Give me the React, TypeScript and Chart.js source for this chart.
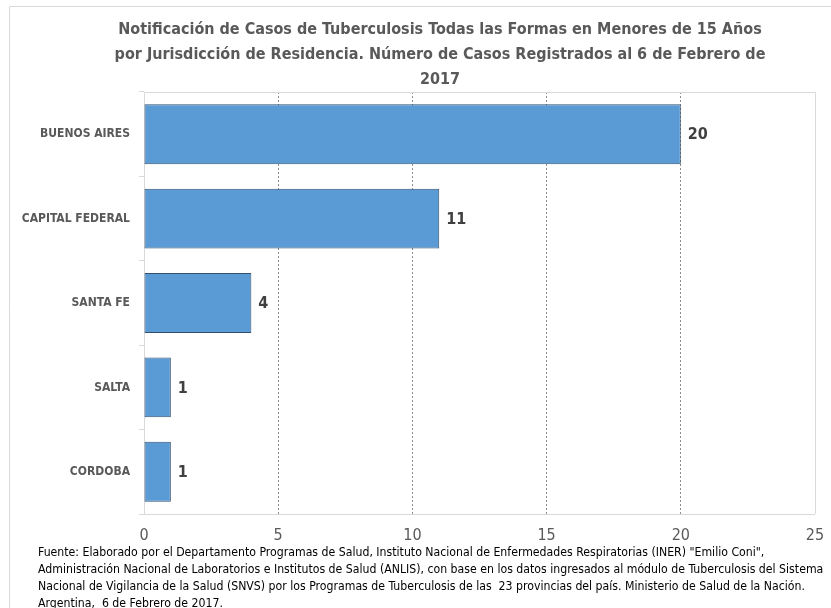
import React, { useEffect, useRef } from "react";
import { Chart, registerables } from "chart.js";

Chart.register(...registerables);

const categories = ["BUENOS AIRES", "CAPITAL FEDERAL", "SANTA FE", "SALTA", "CORDOBA"];
const casos = [20, 11, 4, 1, 1];
const xMin = 0;
const xMax = 25;
const xStep = 5;

const titleLines = [
  "Notificación de Casos de Tuberculosis Todas las Formas en Menores de 15 Años",
  "por Jurisdicción de Residencia. Número de Casos Registrados al 6 de Febrero de",
  "2017",
];

const footerLines = [
  'Fuente: Elaborado por el Departamento Programas de Salud, Instituto Nacional de Enfermedades Respiratorias (INER) "Emilio Coni",',
  "Administración Nacional de Laboratorios e Institutos de Salud (ANLIS), con base en los datos ingresados al módulo de Tuberculosis del Sistema",
  "Nacional de Vigilancia de la Salud (SNVS) por los Programas de Tuberculosis de las  23 provincias del país. Ministerio de Salud de la Nación.",
  "Argentina,  6 de Febrero de 2017.",
];

const FONT = "'DejaVu Sans Condensed', 'DejaVu Sans', sans-serif";

const W = 831;
const H = 608;
const CW = 881;

const decorPlugin = {
  id: "decor",
  beforeDatasetsDraw(chart: any) {
    const { ctx, chartArea } = chart;
    ctx.save();
    ctx.strokeStyle = "#d9d9d9";
    ctx.lineWidth = 1;
    ctx.beginPath();
    ctx.moveTo(chartArea.left, Math.round(chartArea.top) + 0.5);
    ctx.lineTo(chartArea.right, Math.round(chartArea.top) + 0.5);
    ctx.moveTo(Math.round(chartArea.right) + 0.5, chartArea.top);
    ctx.lineTo(Math.round(chartArea.right) + 0.5, chartArea.bottom);
    ctx.moveTo(chartArea.left, Math.round(chartArea.bottom) + 0.5);
    ctx.lineTo(chartArea.right, Math.round(chartArea.bottom) + 0.5);
    ctx.stroke();
    ctx.restore();
  },
  afterDatasetsDraw(chart: any) {
    const { ctx } = chart;
    const meta = chart.getDatasetMeta(0);
    ctx.save();
    ctx.font = `bold 16px ${FONT}`;
    ctx.fillStyle = "#404040";
    ctx.textAlign = "left";
    ctx.textBaseline = "middle";
    meta.data.forEach((bar: any, i: number) => {
      ctx.fillText(String(casos[i]), bar.x + 7, bar.y + 1);
    });
    ctx.restore();
  },
  afterDraw(chart: any) {
    const { ctx } = chart;
    ctx.save();
    ctx.strokeStyle = "#d9d9d9";
    ctx.lineWidth = 1;
    ctx.beginPath();
    ctx.moveTo(9.5, H);
    ctx.lineTo(9.5, 6.5);
    ctx.lineTo(CW, 6.5);
    ctx.stroke();
    ctx.font = `12.2px ${FONT}`;
    ctx.fillStyle = "#000000";
    ctx.textAlign = "left";
    ctx.textBaseline = "middle";
    footerLines.forEach((line, i) => {
      ctx.fillText(line, 38, 553 + i * 17);
    });
    ctx.restore();
  },
};

export default function App() {
  const ref = useRef<HTMLCanvasElement | null>(null);

  useEffect(() => {
    if (!ref.current) return;
    const chart = new Chart(ref.current, {
      type: "bar",
      data: {
        labels: categories,
        datasets: [
          {
            data: casos,
            backgroundColor: "#5b9bd5",
            borderColor: "#33506f",
            borderWidth: 1,
            borderSkipped: false,
            barPercentage: 0.71,
            categoryPercentage: 1,
          },
        ],
      },
      options: {
        indexAxis: "y",
        responsive: false,
        animation: false,
        devicePixelRatio: 1,
        layout: { padding: { left: 15, right: 16, top: 0, bottom: 0 } },
        plugins: {
          legend: { display: false },
          tooltip: { enabled: false },
          title: {
            display: true,
            text: titleLines,
            color: "#595959",
            font: { family: FONT, size: 16, weight: "bold", lineHeight: 25 / 16 },
            padding: { top: 17, bottom: 0 },
          },
        },
        scales: {
          x: {
            type: "linear",
            min: xMin,
            max: xMax,
            ticks: {
              stepSize: xStep,
              color: "#595959",
              font: { family: FONT, size: 16 },
              padding: 12,
            },
            grid: {
              color: (c: any) =>
                c.tick && (c.tick.value === xMin || c.tick.value === xMax) ? "rgba(0,0,0,0)" : "#8c8c8c",
              drawTicks: false,
              lineWidth: 1,
            },
            border: { display: false, dash: [2, 2] },
            afterFit: (s: any) => {
              s.height = 94;
            },
          },
          y: {
            type: "category",
            ticks: {
              color: "#595959",
              font: { family: FONT, size: 12, weight: "bold" },
              padding: 9,
            },
            grid: {
              display: true,
              drawOnChartArea: false,
              drawTicks: true,
              tickLength: 5,
              color: "#d9d9d9",
            },
            border: { display: true, color: "#d9d9d9" },
            afterFit: (s: any) => {
              s.width = 129;
            },
          },
          yRight: {
            type: "linear",
            position: "right",
            display: true,
            ticks: { display: false },
            grid: { display: false, drawTicks: false },
            border: { display: false },
            afterFit: (s: any) => {
              s.width = 50;
            },
          },
        },
      },
      plugins: [decorPlugin],
    });
    return () => chart.destroy();
  }, []);

  return (
    <div style={{ position: "absolute", left: 0, top: 0, width: W, height: H, overflow: "hidden", background: "#ffffff" }}>
      <canvas ref={ref} width={CW} height={H} style={{ display: "block" }} />
    </div>
  );
}
